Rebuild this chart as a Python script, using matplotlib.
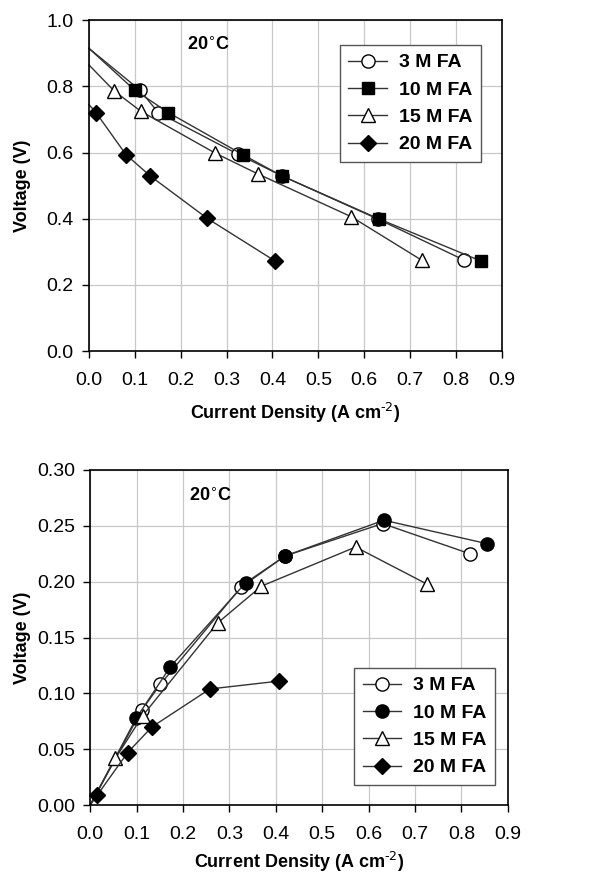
import matplotlib
matplotlib.use('Agg')
import matplotlib.pyplot as plt
from matplotlib.ticker import FormatStrFormatter

plt.rcParams['font.family'] = ['Liberation Sans', 'DejaVu Sans']

# polarisation data, first point is open circuit (no marker)
fa_labels = ['3 M FA', '10 M FA', '15 M FA', '20 M FA']
ocv = [0.915, 0.915, 0.865, 0.745]

i_3m = [0.111, 0.151, 0.325, 0.420, 0.630, 0.818]
v_3m = [0.789, 0.721, 0.595, 0.530, 0.399, 0.275]
i_10m = [0.0995, 0.173, 0.335, 0.420, 0.633, 0.855]
v_10m = [0.789, 0.721, 0.594, 0.530, 0.399, 0.272]
i_15m = [0.0545, 0.113, 0.2745, 0.369, 0.572, 0.725]
v_15m = [0.787, 0.725, 0.599, 0.535, 0.406, 0.275]
i_20m = [0.0153, 0.0806, 0.133, 0.258, 0.406]
v_20m = [0.721, 0.594, 0.530, 0.401, 0.272]

# power density data
p_3m = [0.085, 0.108, 0.195, 0.223, 0.252, 0.225]
p_10m = [0.078, 0.124, 0.199, 0.223, 0.255, 0.234]
p_15m = [0.042, 0.080, 0.163, 0.196, 0.231, 0.198]
p_20m = [0.009, 0.047, 0.070, 0.104, 0.111]

currents = [i_3m, i_10m, i_15m, i_20m]
volts = [v_3m, v_10m, v_15m, v_20m]
powers = [p_3m, p_10m, p_15m, p_20m]

styles_top = [dict(marker='o', mfc='white', ms=9.5),
              dict(marker='s', mfc='black', ms=8.5),
              dict(marker='^', mfc='white', ms=10),
              dict(marker='D', mfc='black', ms=8)]
styles_bot = [dict(marker='o', mfc='white', ms=9.5),
              dict(marker='o', mfc='black', ms=9.5),
              dict(marker='^', mfc='white', ms=10),
              dict(marker='D', mfc='black', ms=8)]

fig = plt.figure(figsize=(6.01, 8.80), dpi=100)
ax1 = fig.add_axes([0.148, 0.601, 0.687, 0.376])
ax2 = fig.add_axes([0.150, 0.085, 0.695, 0.381])

xlab = r'Current Density (A cm$^{\text{-2}}$)'


def style_axes(ax, xlab_y, ylab_x):
    ax.grid(True, color='#c8c8c8', lw=0.9)
    ax.set_axisbelow(True)
    ax.set_xlim(0, 0.9)
    ax.set_xticks([k / 10 for k in range(10)])
    ax.xaxis.set_major_formatter(FormatStrFormatter('%.1f'))
    ax.tick_params(labelsize=14, direction='out', length=5, width=1)
    ax.tick_params(axis='x', pad=10)
    ax.tick_params(axis='y', pad=6)
    for s in ax.spines.values():
        s.set_linewidth(1.2)
    ax.set_xlabel(xlab, fontsize=13, fontweight='bold', va='center')
    ax.set_ylabel('Voltage (V)', fontsize=13, fontweight='bold', va='center')
    ax.xaxis.set_label_coords(0.5, xlab_y)
    ax.yaxis.set_label_coords(ylab_x, 0.5)


for k in range(4):
    xs = [0.0] + currents[k]
    ys = [ocv[k]] + volts[k]
    ax1.plot(xs, ys, color='#333333', lw=1, mec='black', mew=1,
             markevery=list(range(1, len(xs))), label=fa_labels[k],
             clip_on=False, **styles_top[k])
    xs2 = [0.0] + currents[k]
    ys2 = [0.0] + powers[k]
    ax2.plot(xs2, ys2, color='#333333', lw=1, mec='black', mew=1,
             markevery=list(range(1, len(xs2))), label=fa_labels[k],
             clip_on=False, **styles_bot[k])

legend_kw = dict(fancybox=False, edgecolor='#555555', framealpha=1,
                 prop={'weight': 'bold', 'size': 14}, handlelength=2.0,
                 handletextpad=0.6, borderpad=0.45, labelspacing=0.5,
                 borderaxespad=0)

style_axes(ax1, -0.187, -0.162)
ax1.set_ylim(0, 1.0)
ax1.set_yticks([0.0, 0.2, 0.4, 0.6, 0.8, 1.0])
ax1.yaxis.set_major_formatter(FormatStrFormatter('%.1f'))
ax1.text(0.26, 0.925, '20$^{\\circ}$C', fontsize=13, fontweight='bold',
         ha='center', va='center')
leg1 = ax1.legend(loc='upper right', bbox_to_anchor=(0.95, 0.925), **legend_kw)
leg1.get_frame().set_linewidth(1)

style_axes(ax2, -0.170, -0.163)
ax2.set_ylim(0, 0.30)
ax2.set_yticks([0.0, 0.05, 0.10, 0.15, 0.20, 0.25, 0.30])
ax2.yaxis.set_major_formatter(FormatStrFormatter('%.2f'))
ax2.text(0.26, 0.276, '20$^{\\circ}$C', fontsize=13, fontweight='bold',
         ha='center', va='center')
leg2 = ax2.legend(loc='lower right', bbox_to_anchor=(0.97, 0.06), **legend_kw)
leg2.get_frame().set_linewidth(1)

fig.savefig('out.png', dpi=100)
